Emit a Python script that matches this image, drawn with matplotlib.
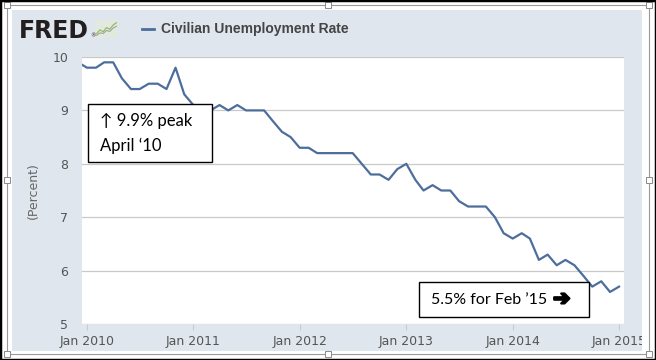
import numpy as np
import pandas as pd
import matplotlib
matplotlib.use("Agg")
import matplotlib.pyplot as plt
import matplotlib.patheffects as pe
from matplotlib.patches import Rectangle
from matplotlib.lines import Line2D

# monthly civilian unemployment rate (percent), Dec 2009 .. Jan 2015
months = pd.date_range("2009-12-01", "2015-01-01", freq="MS")
rate = [
    9.9,
    9.8, 9.8, 9.9, 9.9, 9.6, 9.4, 9.4, 9.5, 9.5, 9.4, 9.8, 9.3,
    9.1, 9.0, 9.0, 9.1, 9.0, 9.1, 9.0, 9.0, 9.0, 8.8, 8.6, 8.5,
    8.3, 8.3, 8.2, 8.2, 8.2, 8.2, 8.2, 8.0, 7.8, 7.8, 7.7, 7.9,
    8.0, 7.7, 7.5, 7.6, 7.5, 7.5, 7.3, 7.2, 7.2, 7.2, 7.0, 6.7,
    6.6, 6.7, 6.6, 6.2, 6.3, 6.1, 6.2, 6.1, 5.9, 5.7, 5.8, 5.6,
    5.7,
]
tick_dates = pd.to_datetime(["2010-01-01", "2011-01-01", "2012-01-01",
                             "2013-01-01", "2014-01-01", "2015-01-01"])
tick_labels = ["Jan 2010", "Jan 2011", "Jan 2012", "Jan 2013", "Jan 2014", "Jan 2015"]
y_ticks = [5, 6, 7, 8, 9, 10]

series_name = "Civilian Unemployment Rate"
note_peak = ["\u2191 9.9% peak", "April \u201810"]
note_last = "5.5% for Feb \u201915"
note_arrow = "\u2794"

# little FRED logo sparkline
icon_x = [0, 1, 2, 3, 4, 5, 6]
icon_a = [1.0, 2.2, 1.6, 3.0, 2.4, 3.8, 4.6]
icon_b = [0.4, 1.2, 1.0, 2.0, 1.7, 2.8, 3.4]

LINE = "#4d6e9c"
PANEL = "#dfe6ed"
NOTE_FONT = ["Lato", "DejaVu Sans"]
W, H = 656, 360


def fx(px):
    return px / W


def fy(py):
    return 1 - py / H


fig = plt.figure(figsize=(W / 100, H / 100), dpi=100)
fig.patch.set_facecolor("white")

# light blue chart panel
fig.add_artist(Rectangle((fx(12), fy(351)), (642 - 12) / W, (351 - 10) / H,
                         transform=fig.transFigure, facecolor=PANEL,
                         edgecolor="none", zorder=-1))

ax = fig.add_axes([fx(82), fy(324), (624 - 82) / W, (324 - 57) / H])
ax.set_facecolor("white")
ax.plot(months, rate, color=LINE, lw=1.6, solid_joinstyle="round")

ax.set_xlim(pd.Timestamp("2009-12-15"), pd.Timestamp("2015-01-18"))
ax.set_ylim(5, 10)
ax.set_yticks(y_ticks)
ax.set_yticklabels([str(v) for v in y_ticks])
ax.set_xticks(tick_dates)
ax.set_xticklabels(tick_labels)
ax.grid(axis="y", color="#c9c9c9", lw=0.9)
ax.set_axisbelow(True)
for s in ax.spines.values():
    s.set_visible(False)
ax.tick_params(axis="y", length=0, pad=10, labelsize=9, labelcolor="#555555")
ax.tick_params(axis="x", length=4, width=0.8, color="#c4ccd4", direction="out",
               pad=4, labelsize=9, labelcolor="#555555")
ax.set_ylabel("(Percent)", fontsize=9, color="#666666", labelpad=9)

# header: logo and legend
fig.text(fx(19), fy(38), "FRED", fontsize=17, fontweight="bold",
         color="#231f20", va="baseline", ha="left")
fig.text(fx(90), fy(37), "\u00ae", fontsize=4, color="#231f20", va="baseline")
iax = fig.add_axes([fx(95), fy(38), 23 / W, 18 / H])
iax.set_facecolor("#e4e9e0")
iax.plot(icon_x, icon_a, color="#8fbf6a", lw=0.9)
iax.plot(icon_x, icon_b, color="#a3aaa3", lw=0.9)
iax.set_xlim(-0.5, 6.5)
iax.set_ylim(-0.5, 5.5)
iax.set_xticks([])
iax.set_yticks([])
for s in iax.spines.values():
    s.set_visible(False)

fig.add_artist(Line2D([fx(142), fx(154)], [fy(29), fy(29)],
                      transform=fig.transFigure, color=LINE, lw=2))
fig.text(fx(161), fy(28.5), series_name, fontsize=10, fontweight="bold",
         family="Liberation Sans", color="#454545", va="center", ha="left")

# annotation boxes
fig.add_artist(Rectangle((fx(88), fy(162)), 124 / W, 58 / H,
                         transform=fig.transFigure, facecolor="white",
                         edgecolor="black", lw=1.0, zorder=3))
fig.text(fx(100), fy(121), note_peak[0], fontsize=12, family=NOTE_FONT,
         va="center", ha="left", zorder=4)
fig.text(fx(100), fy(146), note_peak[1], fontsize=12, family=NOTE_FONT,
         va="center", ha="left", zorder=4)

fig.add_artist(Rectangle((fx(419), fy(317)), 170 / W, 35 / H,
                         transform=fig.transFigure, facecolor="white",
                         edgecolor="black", lw=1.0, zorder=3))
fig.text(fx(431), fy(299.5), note_last, fontsize=11.5, family=NOTE_FONT,
         va="center", ha="left", zorder=4)
fig.text(fx(553), fy(299), note_arrow, fontsize=15, family="DejaVu Sans",
         fontweight="bold", va="center", ha="left", zorder=4,
         path_effects=[pe.withStroke(linewidth=1.6, foreground="black")])

# white strip right of the panel (clips the last tick label)
fig.add_artist(Rectangle((fx(642), 0), (W - 642) / W, 1,
                         transform=fig.transFigure, facecolor="white",
                         edgecolor="none", zorder=2))

# selection frame with handles
fig.add_artist(Rectangle((fx(7), fy(354)), 642 / W, 349 / H,
                         transform=fig.transFigure, fill=False,
                         edgecolor="#9a9a9a", lw=0.8, zorder=5))
for hx in [7, 328, 649]:
    for hy in [5, 180, 354]:
        if hx == 328 and hy == 180:
            continue
        fig.add_artist(Rectangle((fx(hx - 3), fy(hy + 3)), 6 / W, 6 / H,
                                 transform=fig.transFigure, facecolor="white",
                                 edgecolor="#8a8a8a", lw=0.7, zorder=6))

# outer black border
fig.add_artist(Rectangle((0, 0), 1, 1, transform=fig.transFigure, fill=False,
                         edgecolor="black", lw=2.5, zorder=7))

fig.savefig("out.png", dpi=100)
plt.close(fig)
